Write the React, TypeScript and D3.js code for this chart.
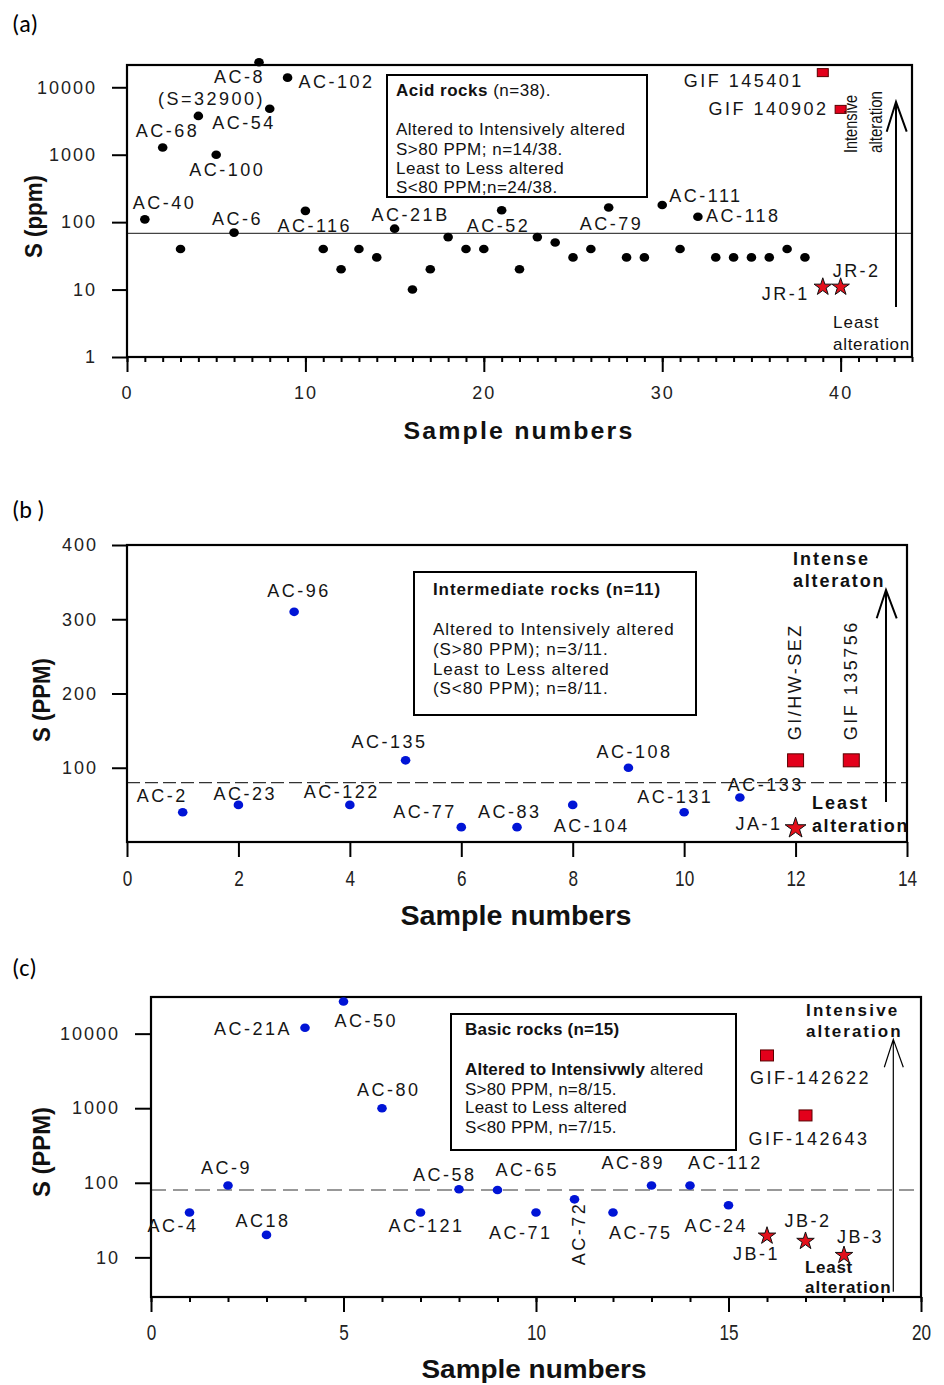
import React, { useEffect, useRef } from "react";
import * as d3 from "d3";

const SANS = "'Liberation Sans', Arial, Helvetica, sans-serif";
const CAL = "Carlito, 'Open Sans', 'Noto Sans', sans-serif";

// ---------- (a) acid rocks ----------
const acidSample = [1, 2, 3, 4, 5, 6, 7.4, 8, 9, 10, 11, 12, 13, 14, 15, 16, 17, 18, 19, 20, 21, 22, 23, 24, 25, 26, 27, 28, 29, 30, 31, 32, 33, 34, 35, 36, 37, 38];
const acidS = [110, 1280, 40, 3760, 1000, 70, 23500, 4800, 13900, 147, 40, 20, 40, 30, 80, 10, 20, 60, 40, 40, 150, 20, 60, 50, 30, 40, 165, 30, 30, 180, 40, 120, 30, 30, 30, 30, 40, 30];
const acidName = ["AC-40", "AC-68", "", "AC-54", "AC-100", "AC-6", "AC-8", "", "AC-102", "AC-116", "", "", "", "", "AC-21B", "", "", "", "", "", "AC-52", "", "", "", "", "", "AC-79", "", "", "AC-111", "", "AC-118", "", "", "", "", "", ""];
const acidNoteSample = [7.4];
const acidNoteS = [23500];
const acidNote = ["(S=32900)"];
const acidGifSample = [39, 40];
const acidGifS = [16500, 4700];
const acidGifName = ["GIF 145401", "GIF 140902"];
const acidRefSample = [39, 40];
const acidRefS = [11.3, 11.3];
const acidRefName = ["JR-1", "JR-2"];
const acidThreshold = 68;
const acidYTicks = [1, 10, 100, 1000, 10000];
const acidXTicks = [0, 10, 20, 30, 40];

// ---------- (b) intermediate rocks ----------
const intSample = [1, 2, 3, 4, 5, 6, 7, 8, 9, 10, 11];
const intS = [40, 50, 310, 50, 110, 20, 20, 50, 100, 40, 60];
const intName = ["AC-2", "AC-23", "AC-96", "AC-122", "AC-135", "AC-77", "AC-83", "AC-104", "AC-108", "AC-131", "AC-133"];
const intGifSample = [12, 13];
const intGifS = [110, 110];
const intGifName = ["GI/HW-SEZ", "GIF 135756"];
const intRefSample = [12];
const intRefS = [20];
const intRefName = ["JA-1"];
const intThreshold = 80;
const intYTicks = [100, 200, 300, 400];
const intXTicks = [0, 2, 4, 6, 8, 10, 12, 14];

// ---------- (c) basic rocks ----------
const basSample = [1, 2, 3, 4, 5, 6, 7, 8, 9, 10, 11, 12, 13, 14, 15];
const basS = [40, 92, 20, 12000, 27000, 1000, 40, 82, 80, 40, 60, 40, 92, 92, 50];
const basName = ["AC-4", "AC-9", "AC18", "AC-21A", "AC-50", "AC-80", "AC-121", "AC-58", "AC-65", "AC-71", "AC-72", "AC-75", "AC-89", "AC-112", "AC-24"];
const basGifSample = [16, 17];
const basGifS = [5100, 800];
const basGifName = ["GIF-142622", "GIF-142643"];
const basRefSample = [16, 17, 18];
const basRefS = [20, 17, 11];
const basRefName = ["JB-1", "JB-2", "JB-3"];
const basThreshold = 80;
const basYTicks = [10, 100, 1000, 10000];
const basXTicks = [0, 5, 10, 15, 20];

// ---------- layout ----------
const FA = { l: 127, t: 65, r: 912, b: 357 };
const FB = { l: 127, t: 545, r: 907, b: 842 };
const FC = { l: 151, t: 997, r: 921, b: 1297 };

// label offsets from the marker: [dx, dy, anchor, rotated]
type Pos = [number, number, string?, boolean?];
const posA: Record<string, Pos> = {
  "AC-40": [-12, -10], "AC-68": [-27, -10], "AC-54": [14, 13.5], "AC-100": [-27, 21],
  "AC-6": [-22, -8], "AC-8": [6, 21, "end"], "(S=32900)": [6, 43, "end"], "AC-102": [11, 10],
  "AC-116": [-28, 21], "AC-21B": [-23, -8], "AC-52": [-35, 22], "AC-79": [-29, 23],
  "AC-111": [7, -3], "AC-118": [8, 5], "GIF 145401": [-19, 14, "end"], "GIF 140902": [-12, 6, "end"],
  "JR-1": [-13, 14, "end"], "JR-2": [-8, -9],
};
const posB: Record<string, Pos> = {
  "AC-2": [-46, -10], "AC-23": [-25, -5], "AC-96": [-27, -15], "AC-122": [-46, -7],
  "AC-135": [-54, -12], "AC-77": [-68, -9], "AC-83": [-39, -9], "AC-104": [-19, 27],
  "AC-108": [-32, -10], "AC-131": [-47, -9], "AC-133": [-12, -6], "JA-1": [-60, 3],
  "GI/HW-SEZ": [5, -20, "start", true], "GIF 135756": [6, -20, "start", true],
};
const posC: Record<string, Pos> = {
  "AC-4": [-42, 20], "AC-9": [-27, -11], "AC18": [-31, -8], "AC-21A": [-13, 7, "end"],
  "AC-50": [-9, 26], "AC-80": [-25, -12], "AC-121": [-32, 20], "AC-58": [-46, -8],
  "AC-65": [-2, -14], "AC-71": [-47, 27], "AC-72": [10, 66, "start", true], "AC-75": [-4, 27],
  "AC-89": [-50, -16], "AC-112": [-2, -16], "AC-24": [-44, 27], "JB-1": [-34, 25],
  "JB-2": [-21, -13], "JB-3": [-7, -11], "GIF-142622": [-17, 29], "GIF-142643": [-57, 30],
};

type Anno = { t: string; x: number; y: number; size: number; bold?: boolean; ls?: number; rot?: boolean; len?: number };
const annoA: Anno[] = [
  { t: "Intensive", x: 857, y: 153, size: 19, rot: true, len: 58 },
  { t: "alteration", x: 882, y: 153, size: 19, rot: true, len: 62 },
  { t: "Least", x: 833, y: 328, size: 17, ls: 1 },
  { t: "alteration", x: 833, y: 350, size: 17, ls: 0.7 },
];
const annoB: Anno[] = [
  { t: "Intense", x: 793, y: 565, size: 18, bold: true, ls: 2 },
  { t: "alteraton", x: 793, y: 587, size: 18, bold: true, ls: 1.8 },
  { t: "Least", x: 812, y: 809, size: 18, bold: true, ls: 2 },
  { t: "alteration", x: 812, y: 832, size: 18, bold: true, ls: 1.6 },
];
const annoC: Anno[] = [
  { t: "Intensive", x: 806, y: 1016, size: 17, bold: true, ls: 2.2 },
  { t: "alteration", x: 806, y: 1037, size: 17, bold: true, ls: 2 },
  { t: "Least", x: 805, y: 1273, size: 17, bold: true, ls: 0.7 },
  { t: "alteration", x: 805, y: 1293, size: 17, bold: true, ls: 1 },
];

type Part = { t: string; b?: boolean };
const legendA = { x: 387, y: 75, w: 260, h: 122, tx: 396, ys: [96, 135, 154.5, 174, 192.5], size: 17, ls: 0.5 };
const legendALines: Part[][] = [
  [{ t: "Acid rocks", b: true }, { t: " (n=38)." }],
  [{ t: "Altered to Intensively altered" }],
  [{ t: "S>80 PPM; n=14/38." }],
  [{ t: "Least to Less altered" }],
  [{ t: "S<80 PPM;n=24/38." }],
];
const legendB = { x: 414, y: 572, w: 282, h: 143, tx: 433, ys: [595, 635, 654.5, 674.5, 693.5], size: 17, ls: 0.9 };
const legendBLines: Part[][] = [
  [{ t: "Intermediate rocks (n=11)", b: true }],
  [{ t: "Altered to Intensively altered" }],
  [{ t: "(S>80 PPM);   n=3/11." }],
  [{ t: "Least to Less altered" }],
  [{ t: "(S<80 PPM); n=8/11." }],
];
const legendC = { x: 451, y: 1014, w: 285, h: 136, tx: 465, ys: [1035, 1075, 1094.5, 1113, 1133], size: 17, ls: 0.2 };
const legendCLines: Part[][] = [
  [{ t: "Basic rocks (n=15)", b: true }],
  [{ t: "Altered to Intensivwly", b: true }, { t: " altered" }],
  [{ t: "S>80 PPM, n=8/15." }],
  [{ t: "Least to Less altered" }],
  [{ t: "S<80 PPM, n=7/15." }],
];

function AxisG({ make, transform, font = 18, ls = 0, narrow = 0 }: any) {
  const ref = useRef<SVGGElement>(null);
  useEffect(() => {
    const g = d3.select(ref.current as SVGGElement);
    g.selectAll("*").remove();
    g.call(make());
    g.select(".domain").remove();
    g.attr("font-family", SANS).attr("font-size", font);
    g.selectAll(".tick line").attr("stroke", "#000").attr("stroke-width", 2);
    g.selectAll(".tick text").attr("fill", "#222").attr("letter-spacing", ls);
    if (narrow) g.selectAll(".tick text").attr("transform", `scale(${narrow},1)`);
  });
  return <g ref={ref} transform={transform} />;
}

function Labels({ xs, ys, names, x, y, pos }: any) {
  return (
    <g fontFamily={SANS} fontSize={18} letterSpacing={2.5} fill="#151515">
      {names.map((n: string, i: number) => {
        const p = pos[n];
        if (!n || !p) return null;
        const px = x(xs[i]) + p[0];
        const py = y(ys[i]) + p[1];
        return p[3] ? (
          <text key={n} transform={`translate(${px},${py}) rotate(-90)`} textAnchor={p[2] || "start"}>{n}</text>
        ) : (
          <text key={n} x={px} y={py} textAnchor={p[2] || "start"}>{n}</text>
        );
      })}
    </g>
  );
}

function Annos({ list }: { list: Anno[] }) {
  return (
    <g fontFamily={SANS} fill="#111">
      {list.map((a, i) =>
        a.rot ? (
          <text key={i} transform={`translate(${a.x},${a.y}) rotate(-90)`} fontSize={a.size}
            fontWeight={a.bold ? "bold" : "normal"} textLength={a.len} lengthAdjust="spacingAndGlyphs">{a.t}</text>
        ) : (
          <text key={i} x={a.x} y={a.y} fontSize={a.size} fontWeight={a.bold ? "bold" : "normal"}
            letterSpacing={a.ls || 0}>{a.t}</text>
        )
      )}
    </g>
  );
}

function Legend({ box, lines }: any) {
  return (
    <g>
      <rect x={box.x} y={box.y} width={box.w} height={box.h} fill="#fff" stroke="#000" strokeWidth={2} />
      <g fontFamily={SANS} fontSize={box.size} letterSpacing={box.ls} fill="#111" style={{ whiteSpace: "pre" }}>
        {lines.map((ln: Part[], i: number) => (
          <text key={i} x={box.tx} y={box.ys[i]}>
            {ln.map((p, j) => (
              <tspan key={j} fontWeight={p.b ? "bold" : "normal"}>{p.t}</tspan>
            ))}
          </text>
        ))}
      </g>
    </g>
  );
}

function Squares({ xs, ys, x, y, w, h }: any) {
  return (
    <g>
      {xs.map((d: number, i: number) => (
        <rect key={i} x={x(d) - w / 2} y={y(ys[i]) - h / 2} width={w} height={h} fill="#e3001b" stroke="#5a0000" strokeWidth={1} />
      ))}
    </g>
  );
}

function Stars({ xs, ys, x, y, size }: any) {
  const star = d3.symbol().type(d3.symbolStar).size(size)() as string;
  return (
    <g>
      {xs.map((d: number, i: number) => (
        <path key={i} d={star} transform={`translate(${x(d)},${y(ys[i]) + 1})`} fill="#e3101b" stroke="#111" strokeWidth={1} />
      ))}
    </g>
  );
}

function Dots({ xs, ys, x, y, color }: any) {
  return (
    <g fill={color}>
      {xs.map((d: number, i: number) => (
        <ellipse key={i} cx={x(d)} cy={y(ys[i])} rx={4.8} ry={4.3} />
      ))}
    </g>
  );
}

function Frame({ f }: any) {
  return <rect x={f.l} y={f.t} width={f.r - f.l} height={f.b - f.t} fill="none" stroke="#000" strokeWidth={2.2} />;
}

export default function App() {
  const xA = d3.scaleLinear().domain([0, 44]).range([FA.l, FA.r]);
  const yA = d3.scaleLog().domain([1, 21400]).range([FA.b, FA.t]);
  const xB = d3.scaleLinear().domain([0, 14]).range([FB.l, FB.r]);
  const yB = d3.scaleLinear().domain([0, 400]).range([FB.b, FB.t]);
  const xC = d3.scaleLinear().domain([0, 20]).range([FC.l, FC.r]);
  const yC = d3.scaleLog().domain([2.94, 31000]).range([FC.b, FC.t]);
  const fmt = d3.format("d");

  return (
    <svg width={944} height={1385} style={{ position: "absolute", left: 0, top: 0, background: "#fff" }}>
      <g fontFamily={CAL} fontSize={24} fill="#000">
        <text x={12} y={32}>(a)</text>
        <text x={12} y={518}>(b )</text>
        <text x={12} y={976}>(c)</text>
      </g>

      {/* ---------- (a) ---------- */}
      <Legend box={legendA} lines={legendALines} />
      <line x1={FA.l} x2={FA.r} y1={yA(acidThreshold)} y2={yA(acidThreshold)} stroke="#444" strokeWidth={1.2} />
      <Frame f={FA} />
      <AxisG transform={`translate(${FA.l},0)`} font={18} ls={2}
        make={() => d3.axisLeft(yA).tickValues(acidYTicks).tickSize(15).tickPadding(15).tickFormat(fmt as any)} />
      <AxisG transform={`translate(0,${FA.b})`} font={18} ls={2}
        make={() => d3.axisBottom(xA).tickValues(acidXTicks).tickSize(15).tickPadding(14)} />
      <AxisG transform={`translate(0,${FA.b})`}
        make={() => d3.axisBottom(xA).tickValues(d3.range(0, 45)).tickSize(5).tickFormat(() => "")} />
      <Dots xs={acidSample} ys={acidS} x={xA} y={yA} color="#000" />
      <Squares xs={acidGifSample} ys={acidGifS} x={xA} y={yA} w={11} h={8} />
      <Stars xs={acidRefSample} ys={acidRefS} x={xA} y={yA} size={95} />
      <Labels xs={acidSample} ys={acidS} names={acidName} x={xA} y={yA} pos={posA} />
      <Labels xs={acidNoteSample} ys={acidNoteS} names={acidNote} x={xA} y={yA} pos={posA} />
      <Labels xs={acidGifSample} ys={acidGifS} names={acidGifName} x={xA} y={yA} pos={posA} />
      <Labels xs={acidRefSample} ys={acidRefS} names={acidRefName} x={xA} y={yA} pos={posA} />
      <Annos list={annoA} />
      <path d="M896,307 V102 M886.7,131.7 L896,102 L906.7,131.7" fill="none" stroke="#000" strokeWidth={2} />
      <text x={519} y={439} textAnchor="middle" fontFamily={SANS} fontWeight="bold" fontSize={23}
        letterSpacing={2} textLength={231} lengthAdjust="spacingAndGlyphs" fill="#111">Sample numbers</text>
      <text transform="translate(42,216.5) rotate(-90)" textAnchor="middle" fontFamily={SANS} fontWeight="bold"
        fontSize={24} textLength={83} lengthAdjust="spacingAndGlyphs" fill="#111">S (ppm)</text>

      {/* ---------- (b) ---------- */}
      <Legend box={legendB} lines={legendBLines} />
      <line x1={FB.l} x2={FB.r} y1={yB(intThreshold)} y2={yB(intThreshold)} stroke="#333" strokeWidth={1.2} strokeDasharray="13,5" />
      <Frame f={FB} />
      <AxisG transform={`translate(${FB.l},0)`} font={18} ls={2}
        make={() => d3.axisLeft(yB).tickValues(intYTicks).tickSize(15).tickPadding(14).tickFormat(fmt as any)} />
      <AxisG transform={`translate(0,${FB.b})`} font={22} narrow={0.78}
        make={() => d3.axisBottom(xB).tickValues(intXTicks).tickSize(15).tickPadding(13)} />
      <Dots xs={intSample} ys={intS} x={xB} y={yB} color="#0014d6" />
      <Squares xs={intGifSample} ys={intGifS} x={xB} y={yB} w={16} h={13} />
      <Stars xs={intRefSample} ys={intRefS} x={xB} y={yB} size={135} />
      <Labels xs={intSample} ys={intS} names={intName} x={xB} y={yB} pos={posB} />
      <Labels xs={intGifSample} ys={intGifS} names={intGifName} x={xB} y={yB} pos={posB} />
      <Labels xs={intRefSample} ys={intRefS} names={intRefName} x={xB} y={yB} pos={posB} />
      <Annos list={annoB} />
      <path d="M886,802 V590 M876.7,618.3 L886,590 L896.7,618.3" fill="none" stroke="#000" strokeWidth={2} />
      <text x={516} y={925} textAnchor="middle" fontFamily={SANS} fontWeight="bold" fontSize={27}
        textLength={231} lengthAdjust="spacingAndGlyphs" fill="#111">Sample numbers</text>
      <text transform="translate(50,700) rotate(-90)" textAnchor="middle" fontFamily={SANS} fontWeight="bold"
        fontSize={24} textLength={84} lengthAdjust="spacingAndGlyphs" fill="#111">S (PPM)</text>

      {/* ---------- (c) ---------- */}
      <Legend box={legendC} lines={legendCLines} />
      <line x1={FC.l} x2={FC.r} y1={yC(basThreshold)} y2={yC(basThreshold)} stroke="#333" strokeWidth={1.2} strokeDasharray="15,7" />
      <Frame f={FC} />
      <AxisG transform={`translate(${FC.l},0)`} font={18} ls={2}
        make={() => d3.axisLeft(yC).tickValues(basYTicks).tickSize(16).tickPadding(15).tickFormat(fmt as any)} />
      <AxisG transform={`translate(0,${FC.b})`} font={22} narrow={0.78}
        make={() => d3.axisBottom(xC).tickValues(basXTicks).tickSize(15).tickPadding(12)} />
      <AxisG transform={`translate(0,${FC.b})`}
        make={() => d3.axisBottom(xC).tickValues(d3.range(0, 21)).tickSize(5).tickFormat(() => "")} />
      <Dots xs={basSample} ys={basS} x={xC} y={yC} color="#0014d6" />
      <Squares xs={basGifSample} ys={basGifS} x={xC} y={yC} w={13} h={11} />
      <Stars xs={basRefSample} ys={basRefS} x={xC} y={yC} size={95} />
      <Labels xs={basSample} ys={basS} names={basName} x={xC} y={yC} pos={posC} />
      <Labels xs={basGifSample} ys={basGifS} names={basGifName} x={xC} y={yC} pos={posC} />
      <Labels xs={basRefSample} ys={basRefS} names={basRefName} x={xC} y={yC} pos={posC} />
      <Annos list={annoC} />
      <path d="M893.3,1291.7 V1039.3 M884.3,1067.3 L893.3,1039.3 L903.3,1067.3" fill="none" stroke="#000" strokeWidth={1.2} />
      <text x={534} y={1378} textAnchor="middle" fontFamily={SANS} fontWeight="bold" fontSize={25}
        textLength={225} lengthAdjust="spacingAndGlyphs" fill="#111">Sample numbers</text>
      <text transform="translate(50,1152) rotate(-90)" textAnchor="middle" fontFamily={SANS} fontWeight="bold"
        fontSize={24} textLength={90} lengthAdjust="spacingAndGlyphs" fill="#111">S (PPM)</text>
    </svg>
  );
}
